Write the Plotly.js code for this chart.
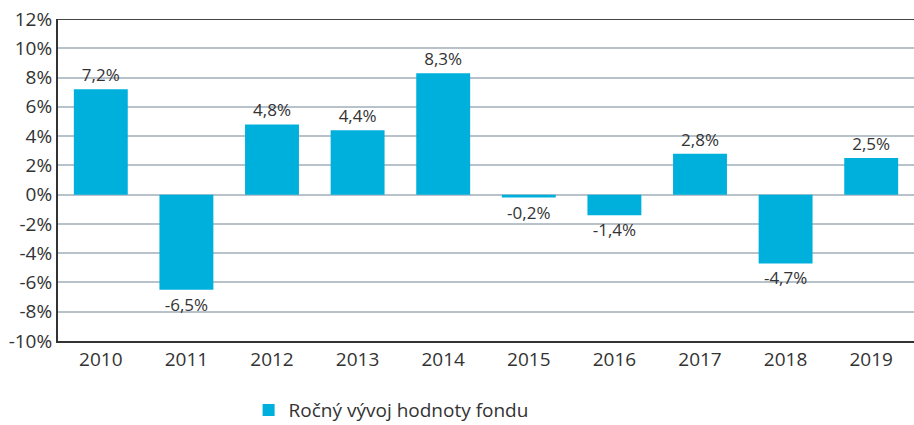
<!DOCTYPE html>
<html>
<head>
<meta charset="utf-8">
<script src="https://cdn.plot.ly/plotly-3.0.1.min.js"></script>
<style>html,body{margin:0;padding:0;background:#fff}#chart{width:914px;height:425px}</style>
</head>
<body>
<div id="chart"></div>
<script>
const years = ['2010','2011','2012','2013','2014','2015','2016','2017','2018','2019'];
const returns = [7.2, -6.5, 4.8, 4.4, 8.3, -0.2, -1.4, 2.8, -4.7, 2.5];
const seriesName = 'Ročný vývoj hodnoty fondu';
const yTicks = [-10, -8, -6, -4, -2, 0, 2, 4, 6, 8, 10, 12];

const fmt = v => v.toFixed(1).replace('.', ',') + '%';
const tickText = yTicks.map(v => String(v) + '%');

const trace = {
  type: 'bar',
  x: years,
  y: returns,
  name: seriesName,
  marker: {color: '#00b0dc'},
  text: returns.map(fmt),
  textposition: 'outside',
  cliponaxis: false,
  textfont: {family: 'Open Sans, sans-serif', size: 17, color: '#333333'},
  hoverinfo: 'none',
  showlegend: true
};

const layout = {
  width: 914, height: 425,
  margin: {l: 58, r: 0, t: 19, b: 84, autoexpand: false},
  paper_bgcolor: '#ffffff', plot_bgcolor: '#ffffff',
  font: {family: 'Open Sans, sans-serif', color: '#333333', size: 19},
  bargap: 0.37,
  xaxis: {
    type: 'category',
    showline: true, linecolor: '#333333', linewidth: 2,
    ticks: '', tickfont: {size: 19, color: '#333333'},
    showgrid: false, zeroline: false, fixedrange: true
  },
  yaxis: {
    range: [-10, 12],
    tickvals: yTicks, ticktext: tickText,
    tickfont: {size: 19, color: '#333333'},
    showline: true, linecolor: '#333333', linewidth: 2,
    showgrid: true, gridcolor: '#b8c2ca', gridwidth: 2,
    zeroline: true, zerolinecolor: '#b8c2ca', zerolinewidth: 2,
    ticks: '', ticklen: 0, fixedrange: true
  },
  shapes: [{
    type: 'line', xref: 'paper', yref: 'y', x0: 0, x1: 1, y0: 12, y1: 12,
    line: {color: '#444444', width: 2}
  }],
  showlegend: true,
  legend: {
    orientation: 'h',
    xref: 'container', yref: 'container',
    x: 0.272, xanchor: 'left', y: 0.035, yanchor: 'middle',
    font: {size: 19, color: '#333333'}
  }
};

Plotly.newPlot('chart', [trace], layout, {displayModeBar: false, staticPlot: true});
</script>
</body>
</html>
